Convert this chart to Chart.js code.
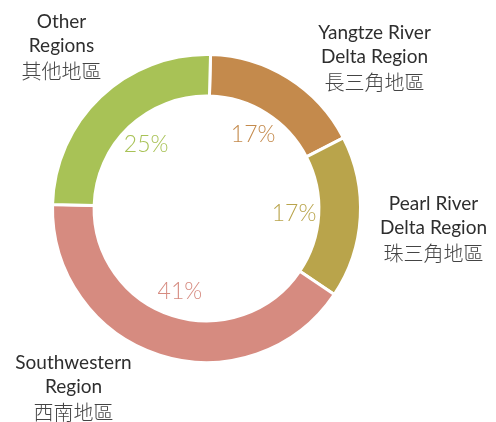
<!DOCTYPE html>
<html>
<head>
<meta charset="utf-8">
<script src="https://cdn.jsdelivr.net/npm/chart.js@4/dist/chart.umd.min.js"></script>
<style>
  html, body { margin: 0; padding: 0; background: #fff; }
  #wrap { width: 496px; height: 422px; position: relative; }
</style>
</head>
<body>
<div id="wrap"><canvas id="regionChart"></canvas></div>
<script>
const regionsEn = [['Yangtze River', 'Delta Region'], ['Pearl River', 'Delta Region'], ['Southwestern', 'Region'], ['Other', 'Regions']];
const regionsZh = ['長三角地區', '珠三角地區', '西南地區', '其他地區'];
const shares = [17, 17, 41, 25];
const colors = ['#C48A4C', '#B9A44B', '#D68B80', '#A8C256'];

// outer name labels: offset of the middle line from the doughnut centre
const nameOffsets = [[168, -151], [227, 20], [-133, 179], [-145, -162]];

const labelPlugin = {
    id: 'regionLabels',
    afterDatasetsDraw(chart) {
        const ctx = chart.ctx;
        const meta = chart.getDatasetMeta(0);
        const arc0 = meta.data[0];
        const cx = arc0.x, cy = arc0.y;
        ctx.save();
        ctx.textAlign = 'center';
        ctx.textBaseline = 'middle';
        meta.data.forEach(function (arc, i) {
            // percentage inside the hole
            const mid = (arc.startAngle + arc.endAngle) / 2;
            const r = arc.innerRadius * 0.78;
            ctx.font = '300 23px Lato';
            ctx.fillStyle = colors[i];
            ctx.fillText(shares[i] + '%', cx + Math.cos(mid) * r, cy + Math.sin(mid) * r);

            // region name
            const x = cx + nameOffsets[i][0];
            const y = cy + nameOffsets[i][1];
            const lines = regionsEn[i];
            const top = y - 12.5 * lines.length;
            ctx.fillStyle = '#2e2e2e';
            ctx.font = '19px Lato';
            lines.forEach(function (t, k) {
                ctx.fillText(t, x, top + k * 24.5);
            });
            ctx.fillStyle = '#444444';
            ctx.font = '300 20px "Noto Sans CJK TC"';
            ctx.fillText(regionsZh[i], x, top + lines.length * 24.5 + 1);
        });
        ctx.restore();
    }
};

new Chart(document.getElementById('regionChart').getContext('2d'), {
    type: 'doughnut',
    data: {
        labels: regionsEn.map(function (l) { return l.join(' '); }),
        datasets: [{
            data: shares,
            backgroundColor: colors,
            borderColor: '#ffffff',
            borderWidth: 3,
            hoverOffset: 0
        }]
    },
    options: {
        responsive: true,
        maintainAspectRatio: false,
        animation: false,
        cutout: '73%',
        rotation: 1.5,
        layout: { padding: { left: 51, right: 134, top: 53, bottom: 58 } },
        plugins: {
            legend: { display: false },
            tooltip: { enabled: false }
        }
    },
    plugins: [labelPlugin]
});
</script>
</body>
</html>
